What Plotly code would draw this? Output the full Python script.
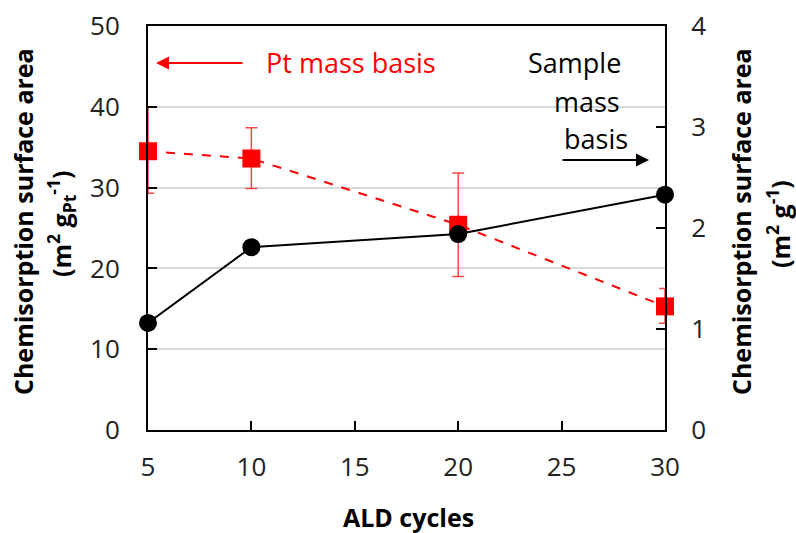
import plotly.graph_objects as go

# ALD cycle counts
cycles = [5, 10, 20, 30]

# Chemisorption surface area per Pt mass (m2 gPt-1) with error bars
pt_area = [34.5, 33.6, 25.4, 15.3]
pt_err_plus = [5.5, 3.8, 6.4, 2.2]
pt_err_minus = [5.2, 3.7, 6.4, 2.1]

# Chemisorption surface area per sample mass (m2 g-1)
sample_area = [1.06, 1.81, 1.94, 2.33]

x_ticks = [5, 10, 15, 20, 25, 30]
y1_ticks = [0, 10, 20, 30, 40, 50]
y2_ticks = [0, 1, 2, 3, 4]

FONT = "Open Sans"
L, R, T, B = 148, 131, 26, 103
W, H = 796, 533
PW, PH = W - L - R, H - T - B


def px(xp):
    return (xp - L) / PW


def py(yp):
    return (H - B - yp) / PH


fig = go.Figure()

fig.add_trace(go.Scatter(
    x=cycles, y=pt_area, yaxis="y",
    mode="lines+markers",
    line=dict(color="#ff0000", width=2, dash="dash"),
    marker=dict(symbol="square", size=18, color="#ff0000"),
    error_y=dict(type="data", symmetric=False, array=pt_err_plus,
                 arrayminus=pt_err_minus, color="#ff4545",
                 thickness=1.5, width=6),
    cliponaxis=False, showlegend=False,
))

fig.add_trace(go.Scatter(
    x=cycles, y=sample_area, yaxis="y2",
    mode="lines+markers",
    line=dict(color="#000000", width=2),
    marker=dict(symbol="circle", size=18, color="#000000"),
    cliponaxis=False, showlegend=False,
))

axis_common = dict(
    showline=True, linecolor="black", linewidth=2,
    ticks="inside", ticklen=9, tickwidth=2, tickcolor="black",
    tickfont=dict(family=FONT, size=26, color="#222"),
    zeroline=False, automargin=False,
)

fig.update_layout(
    width=W, height=H,
    margin=dict(l=L, r=R, t=T, b=B, autoexpand=False),
    paper_bgcolor="white", plot_bgcolor="white",
    xaxis=dict(range=[5, 30], tickvals=x_ticks, showgrid=False,
               mirror=True, ticklabelstandoff=13, **axis_common),
    yaxis=dict(range=[0, 50], tickvals=y1_ticks, showgrid=True,
               gridcolor="#d9d9d9", gridwidth=2,
               ticklabelstandoff=21, **axis_common),
    yaxis2=dict(range=[0, 4], tickvals=y2_ticks, overlaying="y",
                side="right", showgrid=False,
                ticklabelstandoff=19, **axis_common),
)

title_font = dict(family=FONT, size=25, color="black")
note_font = 27

annotations = [
    # axis titles
    dict(text="<b>ALD cycles</b>", x=px(408), y=py(517), font=title_font),
    dict(text="<b>Chemisorption surface area</b>", x=px(23), y=py(222),
         textangle=-90, font=title_font),
    dict(text="<b>(m<sup>2</sup> g<sub>Pt</sub><sup>-1</sup>)</b>",
         x=px(61), y=py(224), textangle=-90, font=title_font),
    dict(text="<b>Chemisorption surface area</b>", x=px(741), y=py(222),
         textangle=-90, font=title_font),
    dict(text="<b>(m<sup>2</sup> g<sup>-1</sup>)</b>", x=px(778),
         y=py(224), textangle=-90, font=title_font),
    # series labels
    dict(text="Pt mass basis", x=px(351), y=py(63),
         font=dict(family=FONT, size=note_font, color="#ff0000")),
    dict(text="Sample", x=px(574), y=py(63),
         font=dict(family=FONT, size=note_font, color="black")),
    dict(text="mass", x=px(587), y=py(101),
         font=dict(family=FONT, size=note_font, color="black")),
    dict(text="basis", x=px(596), y=py(138),
         font=dict(family=FONT, size=note_font, color="black")),
]
for a in annotations:
    a.update(xref="paper", yref="paper", showarrow=False,
             xanchor="center", yanchor="middle")
    fig.add_annotation(**a)

# pointer arrows (tail offsets in pixels)
fig.add_annotation(x=px(156), y=py(63), xref="paper", yref="paper",
                   ax=88, ay=0, axref="pixel", ayref="pixel",
                   showarrow=True, arrowhead=2, arrowsize=1.3,
                   arrowwidth=2, arrowcolor="#ff0000", text="")
fig.add_annotation(x=px(649), y=py(160), xref="paper", yref="paper",
                   ax=-88, ay=0, axref="pixel", ayref="pixel",
                   showarrow=True, arrowhead=2, arrowsize=1.3,
                   arrowwidth=2, arrowcolor="black", text="")

fig.write_html("out.html")
